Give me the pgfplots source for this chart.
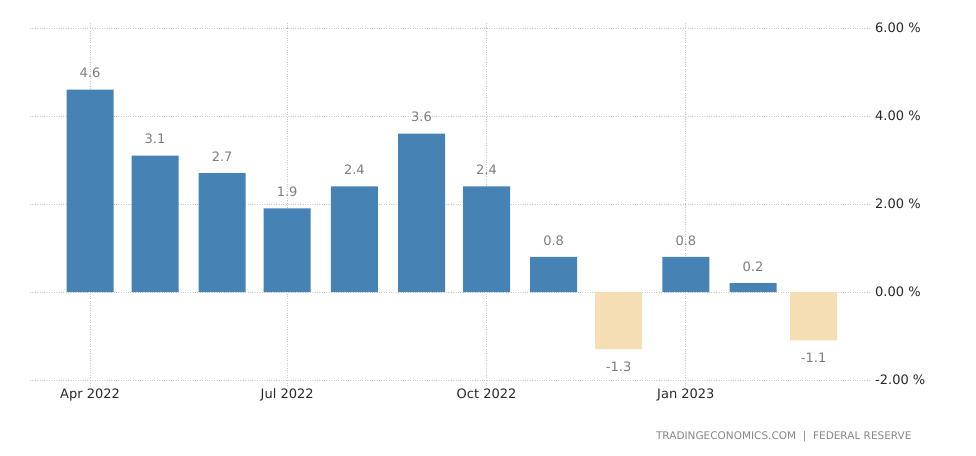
\documentclass[border=0pt]{standalone}
\usepackage{pgfplots}
\pgfplotsset{compat=1.18}
\usepackage{fontspec}
\setmainfont{DejaVu Sans}
\definecolor{barblue}{RGB}{70,130,180}
\definecolor{barneg}{RGB}{245,222,179}
\definecolor{gridgray}{RGB}{200,200,200}
\definecolor{valgray}{RGB}{125,125,125}
\definecolor{srcgray}{RGB}{135,135,135}
\definecolor{ticktext}{RGB}{40,40,40}

\begin{document}
\begin{tikzpicture}
\path[use as bounding box] (0,0) rectangle (976bp,456bp);
\begin{axis}[
  at={(30bp,76bp)}, anchor=south west,
  scale only axis, width=840bp, height=352bp,
  xmin=-27.7, xmax=360, ymin=-2, ymax=6,
  axis line style={draw=none},
  ybar, bar width=21.7, bar shift=0pt,
  xtick={0,91,183,275},
  xticklabels={Apr 2022,Jul 2022,Oct 2022,Jan 2023},
  ytick={-2,0,2,4,6},
  yticklabels={-2.00 \%,0.00 \%,2.00 \%,4.00 \%,6.00 \%},
  yticklabel pos=right,
  xmajorgrids, ymajorgrids,
  grid style={gridgray, dotted, line width=0.9pt},
  tick align=outside,
  major tick length=5bp,
  x tick style={gridgray, dotted, line width=0.9pt},
  y tick style={draw=none},
  ticklabel style={font=\fontsize{13bp}{15bp}\selectfont, text=ticktext},
  yticklabel style={anchor=west, inner sep=0pt, xshift=0bp},
  point meta=explicit symbolic,
  nodes near coords,
  every node near coord/.append style={font=\fontsize{13bp}{15bp}\selectfont, text=valgray},
]
% days since 1 Apr 2022, monthly change in %
\addplot[fill=barblue, draw=none, every node near coord/.append style={anchor=south, yshift=8bp}] coordinates {
  (0,4.6) [4.6]
  (30,3.1) [3.1]
  (61,2.7) [2.7]
  (91,1.9) [1.9]
  (122,2.4) [2.4]
  (153,3.6) [3.6]
  (183,2.4) [2.4]
  (214,0.8) [0.8]
  (275,0.8) [0.8]
  (306,0.2) [0.2]
};
\addplot[fill=barneg, draw=none, every node near coord/.append style={anchor=north, yshift=-9bp}] coordinates {
  (244,-1.3) [-1.3]
  (334,-1.1) [-1.1]
};
\end{axis}
\node[anchor=base east, font=\fontsize{10.5bp}{12bp}\selectfont, text=srcgray] at (915bp,17bp) {TRADINGECONOMICS.COM\ \ |\ \ FEDERAL RESERVE};
\end{tikzpicture}
\end{document}
